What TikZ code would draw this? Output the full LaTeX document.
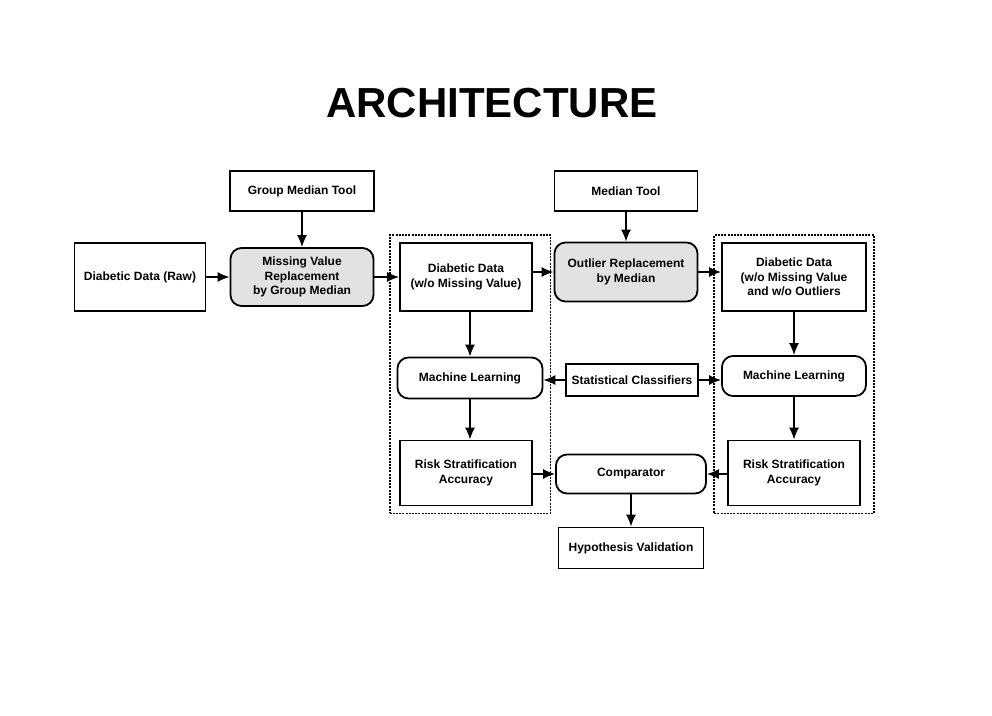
\documentclass[tikz,border=0pt]{standalone}
\usepackage{fontspec}
\setmainfont{Liberation Sans}
\usetikzlibrary{arrows.meta,positioning,fit,calc}
\definecolor{shade}{RGB}{226,226,226}
\tikzset{
  >={Latex[length=12pt,width=10pt]},
  box/.style={draw,line width=1.8pt,fill=#1,minimum height=40pt,minimum width=143pt,
    align=center,inner sep=2pt,font=\fontsize{12}{14.5}\selectfont\bfseries},
  box/.default=white,
  pill/.style={box=#1,rounded corners=11pt},
  pill/.default=white,
  group/.style={draw,line width=1.8pt,dash pattern=on 2pt off 1.2pt,inner sep=7pt},
  flow/.style={->,line width=1.5pt},
}
\begin{document}
\begin{tikzpicture}[x=1pt,y=-1pt]
  \useasboundingbox (0,0) rectangle (992,715);
  \node[font=\fontsize{42}{48}\selectfont\bfseries] (title) at (492,103) {ARCHITECTURE};
  % left part
  \node[box,minimum width=144pt] (gmt) at (302,191) {Group Median Tool};
  \node[box,minimum width=131pt,minimum height=68pt] (raw) at (140,277) {Diabetic Data (Raw)};
  \node[pill=shade,minimum height=58pt] (mvr) at (302,277) {Missing Value\\Replacement\\by Group Median};
  \node[box,minimum width=132pt,minimum height=68pt] (dd1) at (466,277) {Diabetic Data\\(w/o Missing Value)};
  \node[pill,minimum width=145pt,minimum height=41pt] (ml1) at (470,378) {Machine Learning};
  \node[box,minimum width=132pt,minimum height=65pt] (rsa1) at (466,473) {Risk Stratification\\Accuracy};
  % middle
  \node[box] (mt) at (626,191) {Median Tool};
  \node[pill=shade,minimum height=59pt] (orm) at (626,272) {Outlier Replacement\\by Median};
  \node[box,minimum width=132pt,minimum height=32pt] (sc) at (632,380) {Statistical Classifiers};
  \node[pill,minimum width=150pt,minimum height=39pt] (cmp) at (631,474) {Comparator};
  \node[box,minimum width=145pt,minimum height=41pt] (hv) at (631,548) {Hypothesis Validation};
  % right part
  \node[box,minimum width=144pt,minimum height=68pt] (dd2) at (794,277) {Diabetic Data\\(w/o Missing Value\\and w/o Outliers};
  \node[pill,minimum width=144pt] (ml2) at (794,376) {Machine Learning};
  \node[box,minimum width=132pt,minimum height=65pt] (rsa2) at (794,473) {Risk Stratification\\Accuracy};
  \node[group,fit=(dd1)(ml1)(rsa1)] (g1) {};
  \node[group,fit=(dd2)(ml2)(rsa2)] (g2) {};
  % connectors
  \draw[flow] (gmt) -- (mvr);
  \draw[flow] (raw) -- (mvr);
  \draw[flow] (mvr) -- (dd1);
  \draw[flow] (mt) -- (orm);
  \draw[flow] (dd1.east |- orm) -- (orm);
  \draw[flow] (orm) -- (orm -| dd2.west);
  \draw[flow] (dd1.south -| ml1) -- (ml1);
  \draw[flow] (ml1) -- (ml1 |- rsa1.north);
  \draw[flow] (sc.west) -- (sc.west -| ml1.east);
  \draw[flow] (sc.east) -- (sc.east -| ml2.west);
  \draw[flow] (dd2) -- (ml2);
  \draw[flow] (ml2) -- (rsa2);
  \draw[flow] (rsa1.east |- cmp) -- (cmp);
  \draw[flow] (rsa2.west |- cmp) -- (cmp);
  \draw[flow] (cmp) -- (hv);
\end{tikzpicture}
\end{document}
